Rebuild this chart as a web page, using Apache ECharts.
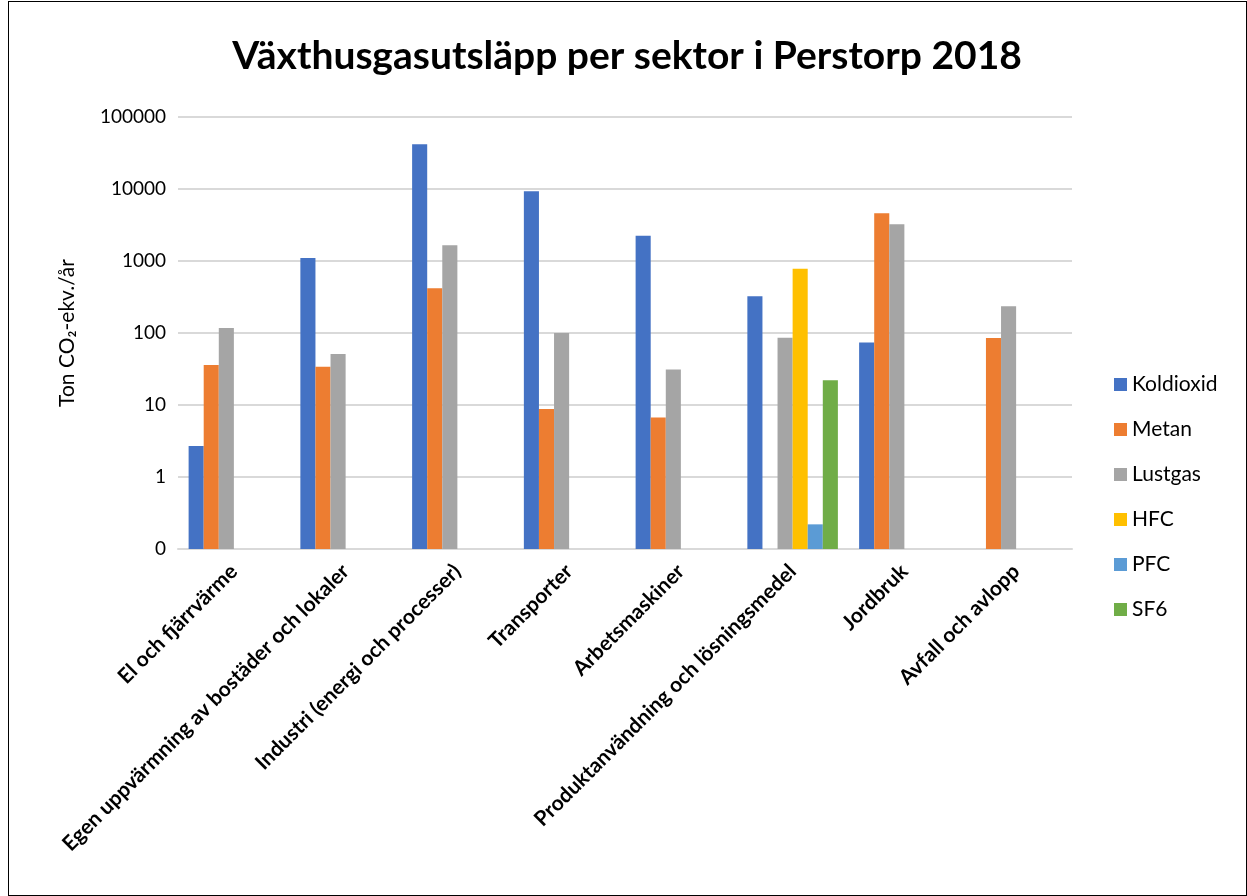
<!DOCTYPE html>
<html>
<head>
<meta charset="utf-8">
<script src="https://cdn.jsdelivr.net/npm/echarts@6/dist/echarts.min.js"></script>
<style>
  html, body { margin: 0; padding: 0; background: #fff; }
  #chart { position: absolute; left: 8px; top: 1px; width: 1237px; height: 893px; border: 1px solid #000; }
</style>
</head>
<body>
<div id="chart"></div>
<script>
// sektorer
var categories = [
  "El och fjärrvärme",
  "Egen uppvärmning av bostäder och lokaler",
  "Industri (energi och processer)",
  "Transporter",
  "Arbetsmaskiner",
  "Produktanvändning och lösningsmedel",
  "Jordbruk",
  "Avfall och avlopp"
];
// ton CO2-ekv./år per gas
var koldioxid = [2.7, 1100, 42000, 9300, 2250, 325, 74, null];
var metan     = [36, 34, 420, 8.8, 6.7, null, 4600, 85];
var lustgas   = [117, 51, 1650, 100, 31, 86, 3250, 235];
var hfc       = [null, null, null, null, null, 780, null, null];
var pfc       = [null, null, null, null, null, 0.22, null, null];
var sf6       = [null, null, null, null, null, 22, null, null];

var seriesNames = ["Koldioxid", "Metan", "Lustgas", "HFC", "PFC", "SF6"];
var seriesData = [koldioxid, metan, lustgas, hfc, pfc, sf6];
var colors = ["#4472C4", "#ED7D31", "#A5A5A5", "#FFC000", "#5B9BD5", "#70AD47"];

var font = "Lato, 'Liberation Sans', sans-serif";
var myChart = echarts.init(document.getElementById("chart"));

myChart.setOption({
  animation: false,
  color: colors,
  title: {
    text: "Växthusgasutsläpp per sektor i Perstorp 2018",
    top: 30,
    left: 622 - 9,
    textAlign: "center",
    textStyle: { fontFamily: font, fontSize: 39, fontWeight: "bold", color: "#000" }
  },
  legend: {
    orient: "vertical",
    left: 1100,
    top: 367,
    itemWidth: 13,
    itemHeight: 13,
    itemGap: 24,
    icon: "rect",
    data: seriesNames,
    textStyle: { fontFamily: font, fontSize: 21, color: "#000" }
  },
  grid: { left: 169, right: 174, top: 115, bottom: 346, containLabel: false },
  xAxis: {
    type: "category",
    data: categories,
    axisLine: { lineStyle: { color: "#d9d9d9", width: 2 } },
    axisTick: { show: false },
    axisLabel: {
      interval: 0,
      rotate: 45,
      margin: 19,
      fontFamily: font,
      fontSize: 21,
      fontWeight: "bold",
      color: "#000"
    }
  },
  yAxis: {
    type: "log",
    logBase: 10,
    min: 0.1,
    max: 100000,
    startValue: 0.1,
    name: "Ton CO₂-ekv./år",
    nameLocation: "middle",
    nameGap: 100,
    nameTextStyle: { fontFamily: font, fontSize: 21, color: "#000" },
    axisLine: { show: false },
    axisTick: { show: false },
    splitLine: { lineStyle: { color: "#d9d9d9", width: 2 } },
    axisLabel: {
      margin: 12,
      fontFamily: font,
      fontSize: 19,
      color: "#000",
      formatter: function (v) {
        return v < 1 ? "0" : String(Math.round(v));
      }
    }
  },
  series: seriesNames.map(function (name, i) {
    return {
      name: name,
      type: "bar",
      data: seriesData[i],
      barGap: "0%",
      barCategoryGap: "19%"
    };
  })
});
</script>
</body>
</html>
